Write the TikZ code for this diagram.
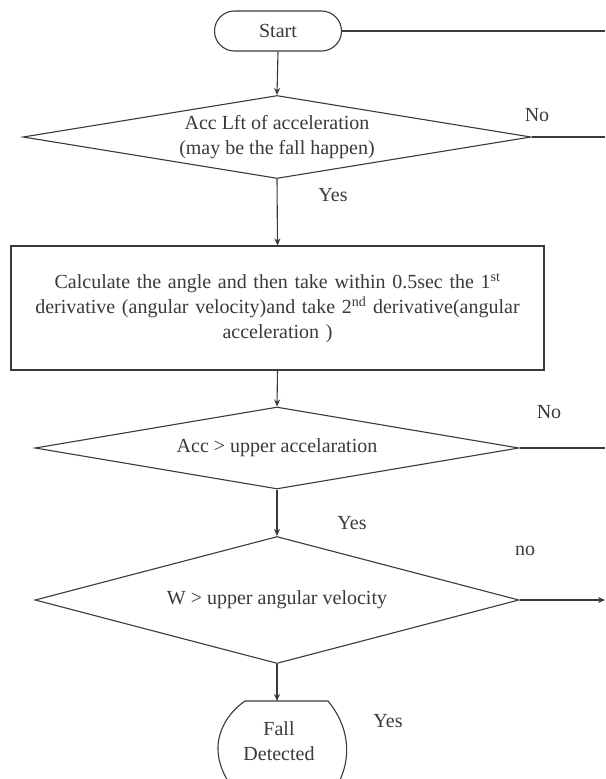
\documentclass[tikz,border=0pt]{standalone}
\usepackage{fontspec}
\setmainfont{Liberation Serif}
\usetikzlibrary{shapes.geometric,arrows.meta}
\definecolor{ink}{HTML}{3A3A3A}
\begin{document}
\begin{tikzpicture}[x=1pt,y=-1pt,
  every node/.style={font=\fontsize{20}{25}\selectfont, text=ink},
  line/.style={draw=ink, line width=1.1pt},
  arr/.style={line, -{Stealth[length=7pt,width=6pt]}},
  decision/.style={shape=diamond, draw=ink, line width=1.1pt, inner sep=0pt, align=center},
  process/.style={rectangle, draw=ink, line width=1.1pt, align=center},
  terminal/.style={rectangle, rounded corners=20pt, draw=ink, line width=1.1pt},
  lbl/.style={inner sep=0pt}]
\fill[white] (0,0) rectangle (605,779);
\useasboundingbox (0,0) rectangle (605,779);

\node[terminal, minimum width=127pt, minimum height=40pt] (start) at (278,31) {Start};
\node[decision, minimum width=508pt, minimum height=83pt, shape aspect=6.1] (d1) at (277,137)
  {Acc Lft of acceleration\\(may be the fall happen)};
\node[process, minimum width=533pt, minimum height=124pt, text width=525pt] (calc) at (277.5,308)
  {Calculate the angle and then take within 0.5sec the 1\textsuperscript{st}\\derivative (angular velocity)and take 2\textsuperscript{nd} derivative(angular\\acceleration )};
\node[decision, minimum width=484pt, minimum height=82pt, shape aspect=5.9] (d2) at (277,448)
  {Acc > upper accelaration};
\node[decision, minimum width=484pt, minimum height=127pt, shape aspect=3.8] (d3) at (277,600)
  {W > upper angular velocity};
\node[align=center, inner sep=0pt] (fall) at (279,741) {Fall\\Detected};
\coordinate (falltop) at (277,701);

\begin{scope}
\clip (0,0) rectangle (605,779);
\draw[line] (245,701) -- (328,701) .. controls (352,730) and (352,765) .. (333,792);
\draw[line] (245,701) .. controls (218,720) and (205,755) .. (236,792);
\end{scope}

\coordinate (e0) at (605,31);
\coordinate (e1) at (605,137);
\coordinate (e2) at (605,448);
\coordinate (e3) at (605,600);

\draw[line] (start.east) -- (start.east -| e0);
\draw[arr] (start.south) -- (d1.north);
\draw[line] (d1.east) -- (d1.east -| e1);
\draw[arr] (d1.south) -- (calc.north);
\draw[arr] (calc.south) -- (d2.north);
\draw[line] (d2.east) -- (d2.east -| e2);
\draw[arr] (d2.south) -- (d3.north);
\draw[arr] (d3.east) -- (d3.east -| e3);
\draw[arr] (d3.south) -- (falltop);

\node[lbl] (no1) at (537,115) {No};
\node[lbl] (yes1) at (333,195) {Yes};
\node[lbl] (no2) at (549,412) {No};
\node[lbl] (yes2) at (352,523) {Yes};
\node[lbl] (no3) at (525,551) {no};
\node[lbl] (yes3) at (388,721) {Yes};
\end{tikzpicture}
\end{document}
